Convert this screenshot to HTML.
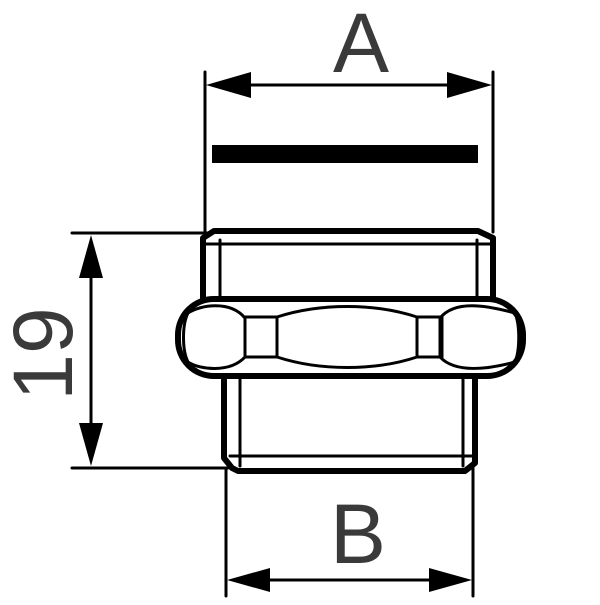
<!DOCTYPE html>
<html><head><style>html,body{margin:0;padding:0;background:#fff}</style></head>
<body>
<svg width="600" height="600" viewBox="0 0 600 600" xmlns="http://www.w3.org/2000/svg">
<g stroke="#000" fill="none" stroke-linecap="round">
<!-- A dimension -->
<line x1="205" y1="72" x2="205" y2="232" stroke-width="3"/>
<line x1="493" y1="72" x2="493" y2="232" stroke-width="3"/>
<line x1="240" y1="85" x2="460" y2="85" stroke-width="3"/>
<!-- 19 dimension -->
<line x1="72" y1="233" x2="212" y2="233" stroke-width="3"/>
<line x1="72" y1="468" x2="228" y2="468" stroke-width="3"/>
<line x1="91" y1="270" x2="91" y2="430" stroke-width="3"/>
<!-- B dimension -->
<line x1="226" y1="468" x2="226" y2="596" stroke-width="3"/>
<line x1="473" y1="468" x2="473" y2="596" stroke-width="3"/>
<line x1="260" y1="580" x2="440" y2="580" stroke-width="3"/>
<!-- top part -->
<path d="M203 298 V238 L214 231 H478 L493 238 V298" stroke-width="6" stroke-linejoin="round"/>
<line x1="205" y1="244" x2="492" y2="244" stroke-width="3"/>
<line x1="220" y1="240" x2="220" y2="298" stroke-width="3"/>
<line x1="477" y1="240" x2="477" y2="298" stroke-width="3"/>
<!-- bottom part -->
<path d="M224 377 V458 L232 468 L238 471 H465 L475 463 V377" stroke-width="6" stroke-linejoin="round"/>
<line x1="230" y1="456" x2="473" y2="456" stroke-width="3"/>
<line x1="240" y1="377" x2="240" y2="466" stroke-width="3"/>
<line x1="463" y1="377" x2="463" y2="466" stroke-width="3"/>
<!-- nut -->
<rect x="178" y="299" width="345" height="77" rx="36" stroke-width="6"/>
<path d="M245 318 C230 300 200 305 188 313 C182 325 182 350 188 362 C200 370 230 373 245 357 Z" stroke-width="3"/>
<path d="M440 318 C455 300 485 305 515 313 C520 325 520 350 515 362 C485 370 455 373 440 357 Z" stroke-width="3"/>
<rect x="245" y="317" width="32" height="40" stroke-width="3"/>
<rect x="417" y="317" width="25" height="40" stroke-width="3"/>
<path d="M277 317 C320 303 375 303 417 317 V357 C375 371 320 371 277 357 Z" stroke-width="3"/>
</g>
<g fill="#000">
<rect x="212" y="145" width="266" height="18"/>
<polygon points="206,85 251,72 251,98"/>
<polygon points="492,85 447,72 447,98"/>
<polygon points="91,235 79,278 103,278"/>
<polygon points="91,466 79,423 103,423"/>
<polygon points="227,580 270,568 270,592"/>
<polygon points="472,580 429,568 429,592"/>
</g>
<g font-family="Liberation Sans, sans-serif" font-size="84" fill="#3a3a3a" text-anchor="middle">
<text x="361" y="72">A</text>
<text x="358" y="563">B</text>
<text transform="translate(72,354) rotate(-90)">19</text>
</g>
</svg>
</body></html>
